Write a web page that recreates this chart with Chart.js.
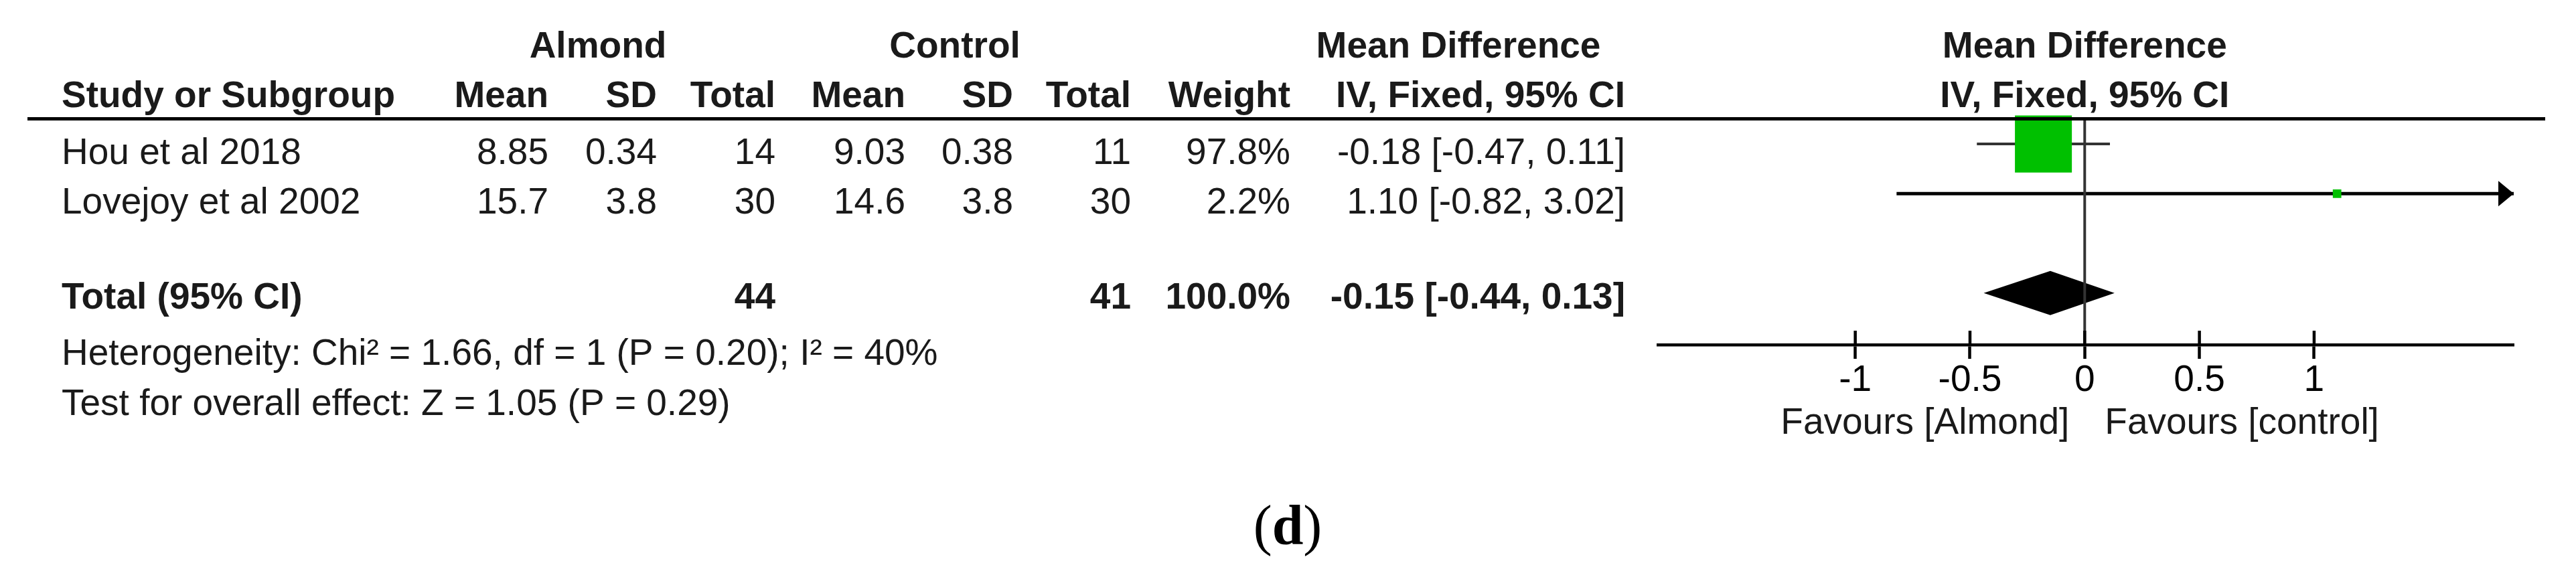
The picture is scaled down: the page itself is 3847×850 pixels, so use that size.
<!DOCTYPE html>
<html>
<head>
<meta charset="utf-8">
<script src="https://cdn.jsdelivr.net/npm/chart.js@4.4.1/dist/chart.umd.min.js"></script>
<style>
  html, body { margin: 0; padding: 0; background: #fff; }
  canvas { display: block; }
</style>
</head>
<body>
<canvas id="forestPlot" width="3847" height="850"></canvas>
<script>
// study data
const studies = ['Hou et al 2018', 'Lovejoy et al 2002'];
const almondMean = [8.85, 15.7];
const almondSD = [0.34, 3.8];
const almondTotal = [14, 30];
const controlMean = [9.03, 14.6];
const controlSD = [0.38, 3.8];
const controlTotal = [11, 30];
const weights = [97.8, 2.2];
const meanDiff = [-0.18, 1.10];
const ciLow = [-0.47, -0.82];
const ciHigh = [0.11, 3.02];
const studyRows = [1, 2];

// pooled result
const totalRow = 4;
const totalAlmond = 44;
const totalControl = 41;
const totalWeight = 100.0;
const totalMD = -0.15;
const totalLow = -0.44;
const totalHigh = 0.13;

const heterogeneity = 'Heterogeneity: Chi² = 1.66, df = 1 (P = 0.20); I² = 40%';
const overallEffect = 'Test for overall effect: Z = 1.05 (P = 0.29)';

// axis
const tickValues = [-1, -0.5, 0, 0.5, 1];
const tickLabels = ['-1', '-0.5', '0', '0.5', '1'];
const xMin = -1.86, xMax = 1.87;

const SANS = '"Liberation Sans", Arial, sans-serif';
const SERIF = '"Liberation Serif", "Times New Roman", serif';
const TXT = '#1a1a1a';

// column x positions of the table (right edges except study)
const col = { study: 92, aMean: 819, aSD: 981, aN: 1158, cMean: 1352, cSD: 1513, cN: 1689, weight: 1927, ci: 2427 };

function say(ctx, s, x, y, align, bold) {
  ctx.font = (bold ? 'bold ' : '') + '55px ' + SANS;
  ctx.textAlign = align;
  ctx.textBaseline = 'alphabetic';
  ctx.fillStyle = TXT;
  ctx.fillText(s, x, y);
}

const ciText = (m, lo, hi) => m.toFixed(2) + ' [' + lo.toFixed(2) + ', ' + hi.toFixed(2) + ']';

const forestPlugin = {
  id: 'forestPlugin',
  afterDatasetsDraw(chart) {
    const ctx = chart.ctx;
    const x = chart.scales.x, y = chart.scales.y, area = chart.chartArea;
    ctx.save();

    // pooled diamond
    const yc = y.getPixelForValue(totalRow);
    ctx.fillStyle = '#000';
    ctx.beginPath();
    ctx.moveTo(x.getPixelForValue(totalLow), yc);
    ctx.lineTo(x.getPixelForValue(totalMD), yc - 33);
    ctx.lineTo(x.getPixelForValue(totalHigh), yc);
    ctx.lineTo(x.getPixelForValue(totalMD), yc + 33);
    ctx.closePath();
    ctx.fill();

    // arrows where the CI runs off the axis
    studies.forEach((s, i) => {
      const py = y.getPixelForValue(studyRows[i]);
      if (ciHigh[i] > x.max) {
        ctx.beginPath();
        ctx.moveTo(area.right, py);
        ctx.lineTo(area.right - 23, py - 19);
        ctx.lineTo(area.right - 23, py + 19);
        ctx.closePath();
        ctx.fill();
      }
      if (ciLow[i] < x.min) {
        ctx.beginPath();
        ctx.moveTo(area.left, py);
        ctx.lineTo(area.left + 23, py - 19);
        ctx.lineTo(area.left + 23, py + 19);
        ctx.closePath();
        ctx.fill();
      }
    });

    // line of no effect
    const x0 = x.getPixelForValue(0);
    ctx.strokeStyle = '#333';
    ctx.lineWidth = 4;
    ctx.beginPath();
    ctx.moveTo(x0, area.top);
    ctx.lineTo(x0, area.bottom);
    ctx.stroke();

    // upper half of tick marks
    ctx.strokeStyle = '#000';
    ctx.lineWidth = 4.5;
    x.ticks.forEach(t => {
      const px = x.getPixelForValue(t.value);
      ctx.beginPath();
      ctx.moveTo(px, area.bottom - 21);
      ctx.lineTo(px, area.bottom);
      ctx.stroke();
    });
    ctx.restore();
  },
  afterDraw(chart) {
    const ctx = chart.ctx;
    const x = chart.scales.x, y = chart.scales.y, area = chart.chartArea;
    const x0 = x.getPixelForValue(0);
    ctx.save();

    // header rule
    ctx.fillStyle = '#000';
    ctx.fillRect(41, area.top - 3, 3801 - 41, 5);

    // headers
    say(ctx, 'Almond', 893, 86, 'center', true);
    say(ctx, 'Control', 1426, 86, 'center', true);
    say(ctx, 'Mean Difference', 2178, 86, 'center', true);
    say(ctx, 'Mean Difference', x0, 86, 'center', true);
    say(ctx, 'Study or Subgroup', col.study, 160, 'left', true);
    say(ctx, 'Mean', col.aMean, 160, 'right', true);
    say(ctx, 'SD', col.aSD, 160, 'right', true);
    say(ctx, 'Total', col.aN, 160, 'right', true);
    say(ctx, 'Mean', col.cMean, 160, 'right', true);
    say(ctx, 'SD', col.cSD, 160, 'right', true);
    say(ctx, 'Total', col.cN, 160, 'right', true);
    say(ctx, 'Weight', col.weight, 160, 'right', true);
    say(ctx, 'IV, Fixed, 95% CI', col.ci, 160, 'right', true);
    say(ctx, 'IV, Fixed, 95% CI', x0, 160, 'center', true);

    // study rows
    studies.forEach((s, i) => {
      const by = y.getPixelForValue(studyRows[i]) + 30;
      say(ctx, s, col.study, by, 'left', false);
      say(ctx, String(almondMean[i]), col.aMean, by, 'right', false);
      say(ctx, String(almondSD[i]), col.aSD, by, 'right', false);
      say(ctx, String(almondTotal[i]), col.aN, by, 'right', false);
      say(ctx, String(controlMean[i]), col.cMean, by, 'right', false);
      say(ctx, String(controlSD[i]), col.cSD, by, 'right', false);
      say(ctx, String(controlTotal[i]), col.cN, by, 'right', false);
      say(ctx, weights[i].toFixed(1) + '%', col.weight, by, 'right', false);
      say(ctx, ciText(meanDiff[i], ciLow[i], ciHigh[i]), col.ci, by, 'right', false);
    });

    // total row
    const ty = y.getPixelForValue(totalRow) + 23;
    say(ctx, 'Total (95% CI)', col.study, ty, 'left', true);
    say(ctx, String(totalAlmond), col.aN, ty, 'right', true);
    say(ctx, String(totalControl), col.cN, ty, 'right', true);
    say(ctx, totalWeight.toFixed(1) + '%', col.weight, ty, 'right', true);
    say(ctx, ciText(totalMD, totalLow, totalHigh), col.ci, ty, 'right', true);

    // footnotes
    say(ctx, heterogeneity, col.study, 545, 'left', false);
    say(ctx, overallEffect, col.study, 620, 'left', false);

    // favours labels
    say(ctx, 'Favours [Almond]', x0 - 23, 648, 'right', false);
    say(ctx, 'Favours [control]', x0 + 30, 648, 'left', false);

    // panel caption (d)
    ctx.textBaseline = 'alphabetic';
    ctx.textAlign = 'left';
    ctx.fillStyle = '#000';
    ctx.font = '84px ' + SERIF;
    const wp = ctx.measureText('(').width;
    ctx.font = 'bold 84px ' + SERIF;
    const wd = ctx.measureText('d').width;
    let cx = 1923 - (2 * wp + wd) / 2;
    ctx.font = '84px ' + SERIF;
    ctx.fillText('(', cx, 813);
    ctx.font = 'bold 84px ' + SERIF;
    ctx.fillText('d', cx + wp, 813);
    ctx.font = '84px ' + SERIF;
    ctx.fillText(')', cx + wp + wd, 813);

    ctx.restore();
  }
};

const ctx = document.getElementById('forestPlot').getContext('2d');

const ciLines = studies.map((s, i) => ({
  type: 'line',
  label: s + ' CI',
  data: [{ x: ciLow[i], y: studyRows[i] }, { x: ciHigh[i], y: studyRows[i] }],
  borderColor: i === 0 ? '#333' : '#000',
  borderWidth: i === 0 ? 4 : 5,
  pointRadius: 0,
  order: 2
}));

const forestPlot = new Chart(ctx, {
  type: 'scatter',
  data: {
    datasets: [
      {
        label: 'Mean difference',
        data: studies.map((s, i) => ({ x: meanDiff[i], y: studyRows[i] })),
        pointStyle: 'rect',
        pointRadius: weights.map(w => 6.08 * Math.sqrt(w)),
        backgroundColor: '#00c000',
        borderWidth: 0,
        clip: false,
        order: 1
      },
      ...ciLines
    ]
  },
  options: {
    responsive: false,
    animation: false,
    events: [],
    layout: { padding: { left: 2476, right: 93, top: 178, bottom: 0 } },
    plugins: {
      legend: { display: false },
      tooltip: { enabled: false }
    },
    scales: {
      x: {
        type: 'linear',
        min: xMin,
        max: xMax,
        afterBuildTicks: scale => { scale.ticks = tickValues.map(v => ({ value: v })); },
        afterFit: scale => { scale.height = 335; },
        ticks: {
          callback: (v) => tickLabels[tickValues.indexOf(v)],
          color: '#000',
          padding: 0,
          maxRotation: 0,
          font: { family: SANS, size: 55 }
        },
        grid: {
          display: true,
          drawOnChartArea: false,
          drawTicks: true,
          tickLength: 21,
          tickWidth: 4.5,
          tickColor: '#000'
        },
        border: { display: true, width: 4.5, color: '#000' }
      },
      y: {
        type: 'linear',
        display: false,
        reverse: true,
        min: 0.5,
        max: 5.04
      }
    }
  },
  plugins: [forestPlugin]
});
</script>
</body>
</html>
